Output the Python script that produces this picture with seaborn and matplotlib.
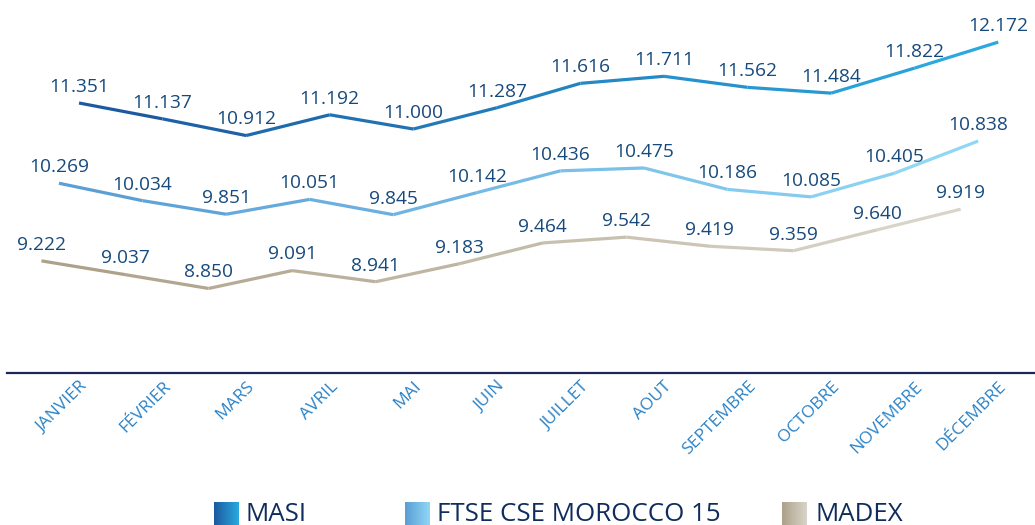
import numpy as np
import pandas as pd
import seaborn as sns
import matplotlib
matplotlib.use('Agg')
import matplotlib.pyplot as plt
from matplotlib.colors import LinearSegmentedColormap, to_hex

# data
months = ['JANVIER', 'FÉVRIER', 'MARS', 'AVRIL', 'MAI', 'JUIN', 'JUILLET',
          'AOUT', 'SEPTEMBRE', 'OCTOBRE', 'NOVEMBRE', 'DÉCEMBRE']
masi = [11.351, 11.137, 10.912, 11.192, 11.000, 11.287, 11.616, 11.711,
        11.562, 11.484, 11.822, 12.172]
ftse = [10.269, 10.034, 9.851, 10.051, 9.845, 10.142, 10.436, 10.475,
        10.186, 10.085, 10.405, 10.838]
madex = [9.222, 9.037, 8.850, 9.091, 8.941, 9.183, 9.464, 9.542,
         9.419, 9.359, 9.640, 9.919]
names = ['MASI', 'FTSE CSE MOROCCO 15', 'MADEX']

# styling per series: x shift, gradient start/end
shifts = [0.0, -0.24, -0.45]
grads = [('#1c5aa0', '#2aa9df'), ('#5a9fd5', '#90d6f5'), ('#ada189', '#d9d4c9')]
label_color = '#174a7c'
tick_color = '#2a82c6'

sns.set_style('white')
plt.rcParams['font.family'] = ['Open Sans', 'DejaVu Sans']

fig = plt.figure(figsize=(10.35, 5.25), dpi=100)
ax = fig.add_axes([7 / 1035, 1 - 373 / 525, 1 - 7 / 1035, 373 / 525])

for vals, shift, (c0, c1) in zip([masi, ftse, madex], shifts, grads):
    cmap = LinearSegmentedColormap.from_list('g', [c0, c1])
    x = np.arange(len(vals)) + shift
    # one two-point segment per month step, coloured along the gradient
    rows = []
    for i in range(len(vals) - 1):
        rows.append({'x': x[i], 'v': vals[i], 'seg': i})
        rows.append({'x': x[i + 1], 'v': vals[i + 1], 'seg': i})
    seg_df = pd.DataFrame(rows)
    pal = [to_hex(cmap(i / (len(vals) - 2))) for i in range(len(vals) - 1)]
    sns.lineplot(data=seg_df, x='x', y='v', hue='seg', palette=pal,
                 estimator=None, sort=False, legend=False, linewidth=2.3,
                 solid_capstyle='butt', ax=ax)
    for xi, v in zip(x, vals):
        ax.annotate(f'{v:.3f}', (xi, v), xytext=(0, 8), textcoords='offset points',
                    ha='center', va='baseline', color=label_color, fontsize=13.8)

ax.set_xlim(-0.862, 11.44)
ax.set_ylim(7.71, 12.74)
ax.set_xticks(range(len(months)))
ax.set_xticklabels(months, rotation=45, ha='right', rotation_mode='anchor',
                   color=tick_color, fontsize=12.5)
ax.tick_params(axis='x', length=0, pad=4)
ax.set_yticks([])
ax.set_xlabel('')
ax.set_ylabel('')
for s in ['top', 'left', 'right']:
    ax.spines[s].set_visible(False)
ax.spines['bottom'].set_color('#1c2757')
ax.spines['bottom'].set_linewidth(1.6)

# legend with gradient squares
leg_sq = [214, 405, 782]
leg_tx = [245, 437, 816]
for name, sq, tx, (c0, c1) in zip(names, leg_sq, leg_tx, grads):
    cmap = LinearSegmentedColormap.from_list('g', [c0, c1])
    lax = fig.add_axes([sq / 1035, 0, 25 / 1035, 23 / 525])
    lax.imshow(np.linspace(0, 1, 50).reshape(1, -1), cmap=cmap, aspect='auto')
    lax.axis('off')
    fig.text(tx / 1035, 4 / 525, name, fontsize=18.6, color='#0e2d5c', va='baseline')

fig.savefig('out.png', dpi=100)
